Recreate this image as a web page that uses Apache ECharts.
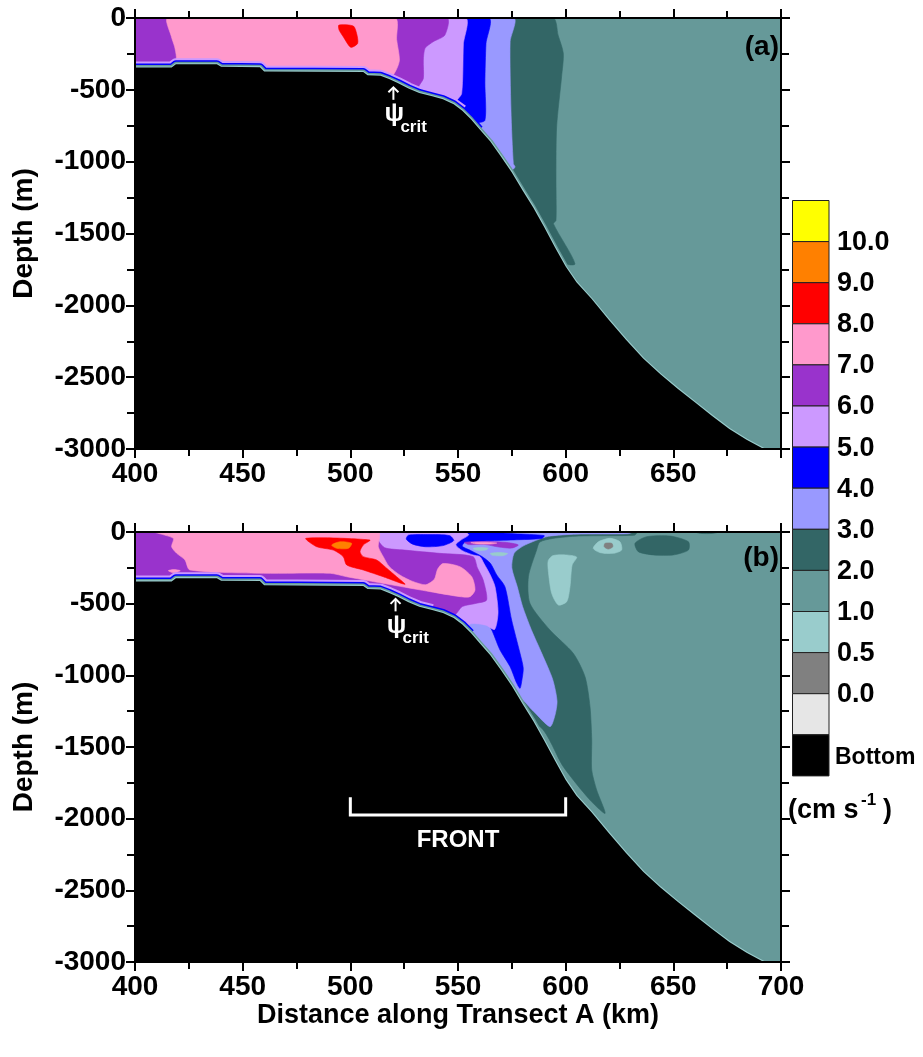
<!DOCTYPE html>
<html><head><meta charset="utf-8">
<script src="https://cdn.jsdelivr.net/npm/echarts/dist/echarts.min.js"></script>
<style>html,body{margin:0;padding:0;background:#fff}#c{width:923px;height:1057px}</style>
</head><body><div id="c"></div>
<script>
// ---------------- DATA (km along transect, depth in m) ----------------
const xTickValues = [400, 450, 500, 550, 600, 650, 700];
const xTickLabelsA = ['400', '450', '500', '550', '600', '650', ''];
const xTickLabelsB = ['400', '450', '500', '550', '600', '650', '700'];
const yTickValues = [0, -500, -1000, -1500, -2000, -2500, -3000];
const yTickLabels = ['0', '-500', '-1000', '-1500', '-2000', '-2500', '-3000'];

const legendLabels = ['10.0', '9.0', '8.0', '7.0', '6.0', '5.0', '4.0', '3.0', '2.0', '1.0', '0.5', '0.0'];
const legendColors = ['#ffff00', '#ff8000', '#ff0000', '#ff99cc', '#9933cc', '#cc99ff', '#0000ff', '#9999ff', '#336666', '#669999', '#99cccc', '#808080', '#e6e6e6', '#000000'];

// sea floor (same bathymetry in both panels)
const seafloor = [[400,-345],[417,-345],[419,-322],[438,-322],[440,-340],[458,-342],[460,-372],[506,-376],[508,-398],[514,-402],[518,-425],[522,-452],[527,-490],[532,-522],[538,-545],[543,-565],[548,-600],[552,-645],[556,-705],[560,-775],[565,-860],[570,-965],[575,-1075],[580,-1200],[585,-1320],[590,-1455],[595,-1595],[600,-1730],[605,-1840],[612,-1955],[620,-2100],[628,-2240],[636,-2370],[644,-2480],[652,-2580],[660,-2675],[668,-2770],[676,-2860],[684,-2935],[692,-3000]];

// Panel (a): regions where speed >= level
const A_ge2 = [[400,0],[594,0],[596.5,-120],[598.9,-246],[598.1,-409],[595.8,-758],[595.5,-1100],[595.5,-1409],[594.3,-1432],[604.3,-1711],[598,-1705],[590,-1600],[400,-1600]];
const A_ge3 = [[400,0],[575.7,0],[574.2,-164],[574.6,-642],[575.7,-1014],[576.5,-1037],[574.5,-1065],[560,-1100],[400,-1100]];
const A_ge4 = [[400,0],[564.1,0],[563,-177],[562.5,-450],[562.5,-712],[558,-735],[555,-780],[400,-780]];
const A_ge5 = [[400,0],[553.3,0],[552.5,-180],[551.7,-525],[549,-580],[546,-650],[400,-650]];
const A_ge6 = [[400,0],[544.8,0],[543.9,-119],[538.5,-165],[534.7,-211],[533.9,-293],[533.9,-421],[532,-470],[528,-600],[400,-600]];
const A_ge7 = [[415.3,0],[520.7,0],[521.5,-150],[522.8,-293],[521,-370],[517,-440],[419.2,-440],[419.2,-270],[418.4,-200],[416.9,-130]];
const A_ge8 = [[494.7,-49],[501.4,-56],[502.9,-107],[503.4,-177],[500.2,-204],[496.7,-130],[494.8,-84]];

// Panel (b)
const B_lowTongue = [[591.9,-200],[594,-165],[600,-160],[605.1,-175],[603,-230],[602,-382],[600.5,-486],[596.6,-509],[593.5,-428],[591.9,-265]];
const B_lowBlob = [[612.8,-114],[615.2,-68],[620.6,-44],[625.2,-68],[626,-126],[622.1,-149],[616,-144]];
const B_minDot = [[618.3,-79],[621.4,-79],[621.9,-103],[619.8,-119],[617.9,-103]];
const B_ge2Blob = [[632.2,-79],[637.6,-33],[648.5,-28],[657,-68],[657,-126],[650,-160],[640.7,-160],[633.7,-137]];
const B_ge2Sliver = [[660,0],[671,0],[668,-10],[663,-10]];
const B_ge2 = [[400,0],[633,0],[632,-22],[606,-28],[594,-45],[588,-70],[586.5,-126],[582.7,-312],[583.4,-497],[592.7,-684],[603.5,-846],[609,-1010],[611.3,-1219],[612.1,-1450],[612.1,-1660],[614.4,-1800],[618.3,-1963],[611.3,-1870],[598.9,-1637],[588.1,-1358],[570,-1300],[400,-1300]];
const B_ge3 = [[400,0],[631,0],[629,-12],[605,-15],[592,-30],[586,-60],[580,-100],[576,-150],[575,-250],[577.5,-380],[580,-520],[584,-680],[589,-850],[594,-1030],[596,-1180],[595,-1280],[592.7,-1358],[585,-1250],[575,-1120],[400,-1120]];
const B_ge4 = [[400,0],[562,0],[576,-12],[590,-25],[589,-45],[576,-55],[562,-62],[553,-75],[552,-100],[556,-130],[561,-170],[565,-218],[568,-300],[571.8,-382],[574.9,-614],[578.8,-846],[580.3,-950],[579.6,-1040],[578.8,-1091],[577.3,-1056],[574.2,-940],[569.5,-823],[564.9,-661],[560.2,-590],[555,-640],[550,-700],[400,-700]];
const B_ge5 = [[400,0],[553,0],[555,-20],[551,-60],[549,-90],[552,-130],[557,-160],[560.2,-172],[562,-218],[565,-300],[567.2,-382],[568.6,-560],[567,-680],[563,-650],[556,-640],[550,-700],[400,-700]];
const B_ge6 = [[400,0],[512,0],[513,-60],[516,-110],[525,-126],[541.6,-149],[557,-172],[559,-250],[561.7,-335],[563.3,-474],[558.7,-497],[552,-520],[548,-580],[400,-600]];
const B_ge7 = [[409.3,0],[513,0],[513,-103],[515.3,-172],[518,-240],[523,-300],[529,-345],[535,-368],[539,-330],[540.5,-260],[543,-220],[550.9,-242],[556.4,-312],[557.9,-405],[555.6,-451],[550.9,-451],[537,-416],[521.5,-375],[498.3,-312],[490.6,-288],[459.6,-288],[425.5,-265],[423.2,-195],[419.4,-149],[417,-103],[417.8,-44]];
const B_ge8 = [[479.4,-44],[484.4,-103],[492.1,-126],[496.7,-172],[498.3,-230],[506,-265],[515.3,-312],[525.4,-365],[521.5,-312],[516.9,-253],[512.2,-195],[506,-172],[504.5,-137],[506,-91],[509.1,-56]];
const B_ge9 = [[491.3,-91],[495.2,-68],[500.6,-79],[499.1,-114],[493.7,-114]];
// near-surface patches above the jet core
const B_surfBlue = [[527,-22],[536,-18],[546,-25],[548,-60],[543,-95],[535,-103],[529,-85],[526,-50]];
const B_surfPurple = [[553,-72],[562,-66],[572,-72],[578,-90],[575,-112],[569,-105],[562,-86],[555,-88]];
const B_surfPink = [[556,-74],[562,-71],[568,-77],[565,-84],[558,-82]];
const B_slowEll1 = [[557,-115],[560,-108],[564,-113],[563,-125],[559,-128]];
const B_slowEll2 = [[565,-150],[569,-143],[573,-150],[571,-165],[566,-163]];
const B_pinkDot = [[415.5,-270],[418,-262],[421,-270],[418,-285]];

// annotations
const psiCritA = [520, -479];
const psiCritB = [521, -463];
const frontBracket = [[500,-1850],[500,-1975],[600,-1975],[600,-1850]];
const frontLabel = [550, -2150];

// extents of bottom-layer colour bands (km)
const coatA = {lavender: 552, blue: 562};
const coatB = {lavender: 540, blue: 556};

// ---------------- STYLE ----------------
const FONT = '"Liberation Sans", Arial, Helvetica, sans-serif';
const C = {l0:'#808080', l05:'#99cccc', l1:'#669999', l2:'#336666', l3:'#9999ff', l4:'#0000ff', l5:'#cc99ff', l6:'#9933cc', l7:'#ff99cc', l8:'#ff0000', l9:'#ff8000'};

const layersA = [[A_ge2,C.l2],[A_ge3,C.l3],[A_ge4,C.l4],[A_ge5,C.l5],[A_ge6,C.l6],[A_ge7,C.l7],[A_ge8,C.l8]];
const layersB = [[B_lowTongue,C.l05],[B_lowBlob,C.l05],[B_minDot,C.l0],[B_ge2Blob,C.l2],[B_ge2Sliver,C.l2],[B_ge2,C.l2],[B_ge3,C.l3],[B_ge4,C.l4],[B_ge5,C.l5],[B_ge6,C.l6],[B_ge7,C.l7],[B_ge8,C.l8],[B_ge9,C.l9],
  [B_surfBlue,C.l4],[B_surfPurple,C.l6],[B_surfPink,C.l7],[B_slowEll1,C.l05],[B_slowEll2,C.l05],[B_pinkDot,C.l7]];

function regionSeries(g, layers) {
  return {
    type: 'custom', coordinateSystem: 'cartesian2d', xAxisIndex: g*2, yAxisIndex: g*2,
    clip: true, silent: true, z: 2,
    data: layers.map(l => l[0][0]),
    renderItem: (params, api) => {
      const l = layers[params.dataIndex];
      return {type: 'polygon', shape: {points: l[0].map(p => api.coord(p)), smooth: 0.25}, style: {fill: l[1], stroke: l[1], lineWidth: 0.6}};
    }
  };
}

function floorSeries(g, coat) {
  return {
    type: 'custom', coordinateSystem: 'cartesian2d', xAxisIndex: g*2, yAxisIndex: g*2,
    clip: true, silent: true, z: 3,
    data: [seafloor[0]],
    renderItem: (params, api) => {
      const pts = seafloor.map(p => api.coord(p));
      const sub = km => seafloor.filter(p => p[0] <= km).map(p => api.coord(p));
      const first = seafloor[0], last = seafloor[seafloor.length - 1];
      const poly = [api.coord([first[0]-5, first[1]])].concat(pts,
        [api.coord([last[0]+20, last[1]-500]), api.coord([first[0]-5, last[1]-500])]);
      const ln = (p, c, w) => ({type: 'polyline', shape: {points: p}, style: {stroke: c, lineWidth: w, fill: null, lineJoin: 'round'}});
      return {type: 'group', children: [
        ln(sub(coat.lavender), C.l5, 12),
        ln(sub(coat.blue), C.l4, 8),
        ln(pts, C.l1, 5),
        ln(pts, C.l05, 2.2),
        {type: 'polygon', shape: {points: poly}, style: {fill: '#000'}}
      ]};
    }
  };
}

function psiSeries(g, pos) {
  return {
    type: 'custom', coordinateSystem: 'cartesian2d', xAxisIndex: g*2, yAxisIndex: g*2,
    clip: false, silent: true, z: 20, data: [pos],
    renderItem: (params, api) => {
      const p = api.coord([api.value(0), api.value(1)]);
      return {type: 'group', children: [
        {type: 'line', shape: {x1: p[0], y1: p[1]+13, x2: p[0], y2: p[1]+1}, style: {stroke: '#fff', lineWidth: 2}},
        {type: 'polyline', shape: {points: [[p[0]-5, p[1]+5.5], [p[0], p[1]+0.5], [p[0]+5, p[1]+5.5]]}, style: {stroke: '#fff', lineWidth: 2, fill: null}},
        {type: 'text', x: p[0]+1, y: p[1]+27, style: {text: 'ψ', fill: '#fff', font: 'bold 26px ' + FONT, align: 'center', verticalAlign: 'middle', textAlign: 'center', textVerticalAlign: 'middle'}},
        {type: 'text', x: p[0]+7, y: p[1]+40, style: {text: 'crit', fill: '#fff', font: 'bold 17px ' + FONT, align: 'left', verticalAlign: 'middle', textAlign: 'left', textVerticalAlign: 'middle'}}
      ]};
    }
  };
}

const frontSeries = {
  type: 'custom', coordinateSystem: 'cartesian2d', xAxisIndex: 2, yAxisIndex: 2,
  clip: false, silent: true, z: 20, data: [frontLabel],
  renderItem: (params, api) => {
    const t = api.coord(frontLabel);
    return {type: 'group', children: [
      {type: 'polyline', shape: {points: frontBracket.map(p => api.coord(p))}, style: {stroke: '#fff', lineWidth: 3, fill: null, lineJoin: 'miter'}},
      {type: 'text', x: t[0], y: t[1], style: {text: 'FRONT', fill: '#fff', font: 'bold 24px ' + FONT, align: 'center', verticalAlign: 'middle', textAlign: 'center', textVerticalAlign: 'middle'}}
    ]};
  }
};

const lineS = {color: '#000', width: 2};
function xAxes(g, labels, name) {
  const base = {type: 'value', gridIndex: g, min: 400, max: 700, interval: 50, z: 10,
    axisLine: {show: true, onZero: false, lineStyle: lineS},
    axisTick: {show: true, inside: false, length: 9, lineStyle: lineS},
    minorTick: {show: true, splitNumber: 2, length: 7, lineStyle: lineS},
    splitLine: {show: false}, minorSplitLine: {show: false}};
  return [
    Object.assign({}, base, {position: 'bottom',
      axisLabel: {show: true, margin: 11, fontSize: 28, fontWeight: 'bold', fontFamily: FONT, color: '#000', showMinLabel: true, showMaxLabel: true,
        formatter: v => { const i = xTickValues.indexOf(v); return i < 0 ? '' : labels[i]; }},
      name: name, nameLocation: 'middle', nameGap: 40,
      nameTextStyle: {fontSize: 27, fontWeight: 'bold', fontFamily: FONT, color: '#000'}}),
    Object.assign({}, base, {position: 'top', axisLabel: {show: false}})
  ];
}
function yAxes(g) {
  const base = {type: 'value', gridIndex: g, min: -3000, max: 0, interval: 500, z: 10,
    axisLine: {show: true, onZero: false, lineStyle: lineS},
    axisTick: {show: true, inside: false, length: 9, lineStyle: lineS},
    minorTick: {show: true, splitNumber: 2, length: 8, lineStyle: lineS},
    splitLine: {show: false}, minorSplitLine: {show: false}};
  return [
    Object.assign({}, base, {position: 'left',
      axisLabel: {show: true, margin: 9, fontSize: 28, fontWeight: 'bold', fontFamily: FONT, color: '#000', showMinLabel: true, showMaxLabel: true,
        formatter: v => { const i = yTickValues.indexOf(v); return i < 0 ? '' : yTickLabels[i]; }},
      name: 'Depth (m)', nameLocation: 'middle', nameRotate: 90, nameGap: 97,
      nameTextStyle: {fontSize: 28, fontWeight: 'bold', fontFamily: FONT, color: '#000'}}),
    Object.assign({}, base, {position: 'right', axisLabel: {show: false}})
  ];
}

// colour bar
const barX = 792.5, barTop = 200.5, barH = 41.1, barW = 36.5;
const graphics = [];
legendColors.forEach((c, i) => graphics.push({type: 'rect', shape: {x: barX, y: barTop + i*barH, width: barW, height: barH}, style: {fill: c, stroke: '#222', lineWidth: 1}}));
legendLabels.forEach((t, i) => graphics.push({type: 'text', x: 837, y: barTop + (i+1)*barH + 1, style: {text: t, fill: '#000', font: 'bold 27px ' + FONT, align: 'left', verticalAlign: 'middle', textAlign: 'left', textVerticalAlign: 'middle'}}));
graphics.push({type: 'text', x: 835, y: barTop + 13.5*barH + 2, style: {text: 'Bottom', fill: '#000', font: 'bold 23px ' + FONT, align: 'left', verticalAlign: 'middle', textAlign: 'left', textVerticalAlign: 'middle'}});
graphics.push({type: 'text', x: 788, y: 811, style: {text: '(cm s', fill: '#000', font: 'bold 27px ' + FONT, align: 'left', verticalAlign: 'middle', textAlign: 'left', textVerticalAlign: 'middle'}});
graphics.push({type: 'text', x: 861, y: 800, style: {text: '-1', fill: '#000', font: 'bold 17px ' + FONT, align: 'left', verticalAlign: 'middle', textAlign: 'left', textVerticalAlign: 'middle'}});
graphics.push({type: 'text', x: 883, y: 811, style: {text: ')', fill: '#000', font: 'bold 27px ' + FONT, align: 'left', verticalAlign: 'middle', textAlign: 'left', textVerticalAlign: 'middle'}});
graphics.push({type: 'text', x: 779, y: 47, z: 30, style: {text: '(a)', fill: '#000', font: 'bold 28px ' + FONT, align: 'right', verticalAlign: 'middle', textAlign: 'right', textVerticalAlign: 'middle'}});
graphics.push({type: 'text', x: 779, y: 558, z: 30, style: {text: '(b)', fill: '#000', font: 'bold 28px ' + FONT, align: 'right', verticalAlign: 'middle', textAlign: 'right', textVerticalAlign: 'middle'}});

const chart = echarts.init(document.getElementById('c'), null, {renderer: 'canvas'});
chart.setOption({
  backgroundColor: '#fff',
  animation: false,
  grid: [
    {left: 135, top: 18, width: 646, height: 431, show: true, backgroundColor: C.l1, borderWidth: 0},
    {left: 135, top: 532, width: 646, height: 430, show: true, backgroundColor: C.l1, borderWidth: 0}
  ],
  xAxis: [].concat(xAxes(0, xTickLabelsA, ''), xAxes(1, xTickLabelsB, 'Distance along Transect A (km)')),
  yAxis: [].concat(yAxes(0), yAxes(1)),
  series: [
    regionSeries(0, layersA), floorSeries(0, coatA), psiSeries(0, psiCritA),
    regionSeries(1, layersB), floorSeries(1, coatB), psiSeries(1, psiCritB), frontSeries
  ],
  graphic: graphics
});
</script></body></html>
